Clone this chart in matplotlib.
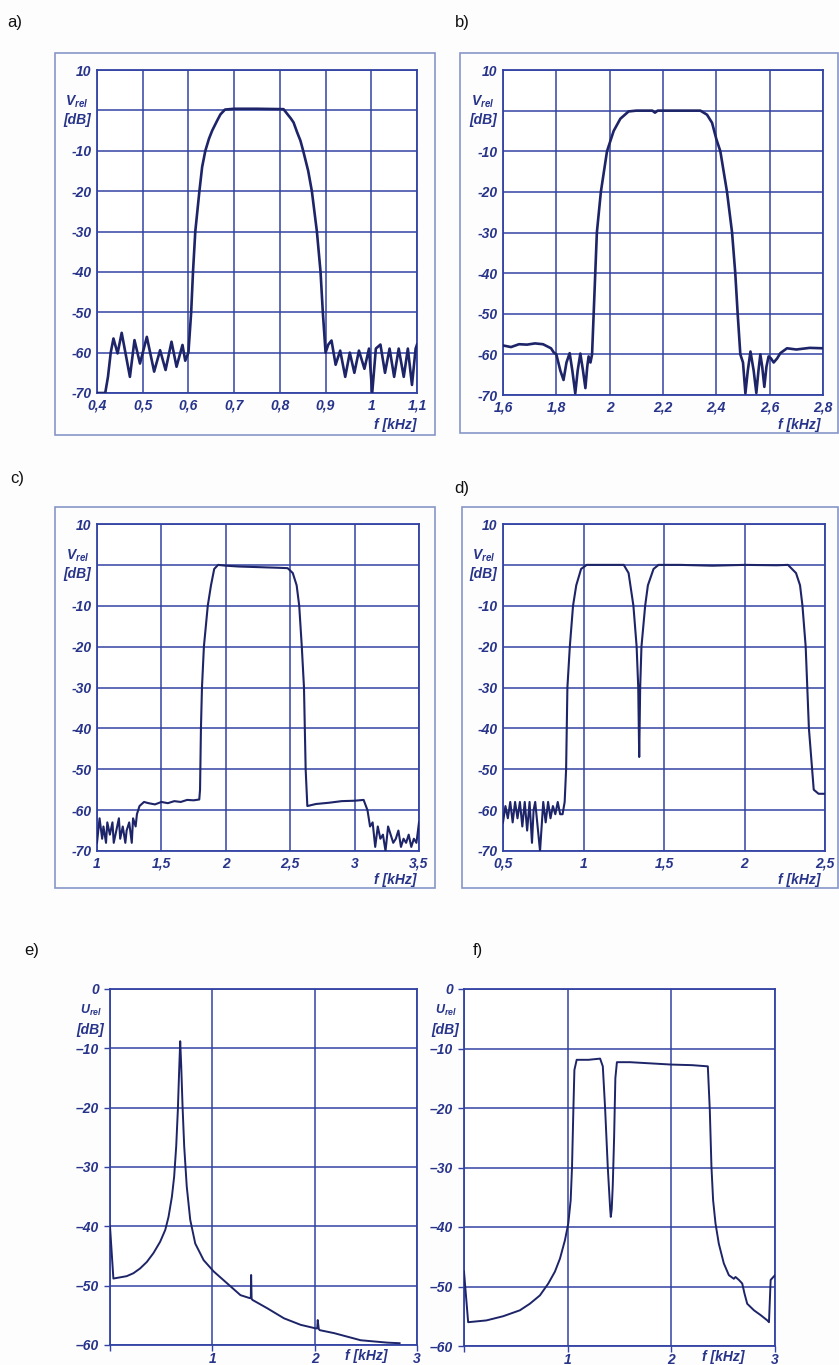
import matplotlib
matplotlib.use('Agg')
from matplotlib import pyplot as plt
from matplotlib.patches import Rectangle

## fonts: italic bold, Arial-like
plt.rcParams['font.family'] = ['Liberation Sans', 'DejaVu Sans']
plt.rcParams['mathtext.fontset'] = 'custom'
plt.rcParams['mathtext.it'] = 'Liberation Sans:italic:bold'
plt.rcParams['mathtext.rm'] = 'Liberation Sans:italic:bold'

## ---- data ----
## a) 0.4 .. 1.1 kHz
a_f = [
    0.400, 0.418, 0.424, 0.430, 0.436, 0.445, 0.454, 0.472, 0.482, 0.494,
    0.509, 0.525, 0.538, 0.550, 0.563, 0.574, 0.587, 0.593, 0.600, 0.603,
    0.606, 0.610, 0.615, 0.624, 0.630, 0.637, 0.645, 0.652, 0.663, 0.670,
    0.680, 0.700, 0.750, 0.808, 0.817, 0.824, 0.830, 0.838, 0.845, 0.851,
    0.862, 0.870, 0.881, 0.889, 0.894, 0.900, 0.906, 0.913, 0.922, 0.932,
    0.943, 0.953, 0.963, 0.973, 0.985, 0.995, 1.002, 1.010, 1.020, 1.030,
    1.040, 1.050, 1.060, 1.071, 1.080, 1.089, 1.097, 1.100]
a_db = [
    -70, -70, -66, -60, -56.5, -60.2, -55.1, -66, -56.9, -62.7,
    -56.1, -64.7, -59.4, -64.3, -57.3, -63.5, -58.1, -62, -60, -55,
    -50, -40, -30, -20, -14, -10, -7, -5, -2.5, -1,
    0.2, 0.4, 0.4, 0.3, -1, -2, -3, -5.5, -7.5, -10,
    -15, -20, -30, -40, -50, -60, -58, -57, -63, -59.5,
    -66, -60, -65, -59.5, -64, -59, -70, -59, -58, -65,
    -59, -66, -59, -66, -59, -68, -59, -58]

## b) 1.6 .. 2.8 kHz
b_f = [
    1.60, 1.63, 1.66, 1.69, 1.72, 1.75, 1.78, 1.79, 1.80, 1.815,
    1.827, 1.838, 1.850, 1.860, 1.871, 1.880, 1.890, 1.900, 1.909, 1.916,
    1.921, 1.928, 1.934, 1.940, 1.946, 1.952, 1.967, 1.990, 2.015, 2.040,
    2.071, 2.100, 2.160, 2.170, 2.180, 2.250, 2.340, 2.365, 2.384, 2.400,
    2.415, 2.440, 2.459, 2.471, 2.480, 2.490, 2.500, 2.509, 2.518, 2.528,
    2.540, 2.550, 2.558, 2.565, 2.572, 2.580, 2.588, 2.596, 2.605, 2.615,
    2.628, 2.640, 2.665, 2.700, 2.750, 2.800]
b_db = [
    -57.8, -58.2, -57.5, -57.6, -57.3, -57.5, -58.5, -59.5, -60, -64,
    -66.3, -62, -59.7, -64, -69.6, -64, -59.8, -64, -68.3, -63,
    -60.5, -62, -60, -50, -40, -30, -20, -10, -5, -2,
    -0.2, 0, 0, -0.5, 0, 0, 0, -1, -3, -7,
    -10, -20, -30, -40, -50, -60, -62, -69.6, -64, -59.3,
    -64, -69.5, -64, -60, -63, -68, -63, -60.5, -61, -62,
    -61, -59.7, -58.5, -58.8, -58.4, -58.5]

## c) 1 .. 3.5 kHz
c_f = [
    1.00, 1.02, 1.04, 1.05, 1.07, 1.08, 1.10, 1.12, 1.13, 1.15,
    1.17, 1.18, 1.20, 1.22, 1.23, 1.25, 1.27, 1.28, 1.30, 1.31,
    1.33, 1.365, 1.40, 1.45, 1.50, 1.55, 1.60, 1.65, 1.70, 1.75,
    1.794, 1.800, 1.807, 1.815, 1.830, 1.860, 1.885, 1.910, 1.940, 2.00,
    2.10, 2.20, 2.30, 2.40, 2.48, 2.52, 2.55, 2.57, 2.59, 2.607,
    2.62, 2.633, 2.70, 2.80, 2.90, 3.00, 3.07, 3.10, 3.12, 3.14,
    3.16, 3.18, 3.20, 3.22, 3.24, 3.26, 3.28, 3.30, 3.32, 3.34,
    3.36, 3.38, 3.40, 3.42, 3.44, 3.46, 3.48, 3.50]
c_db = [
    -68, -62, -67, -64, -68, -63, -66, -63, -68, -65,
    -62, -67, -64, -68, -65, -63, -68, -62, -64, -61,
    -59, -58, -58.3, -58.6, -58, -58.3, -57.8, -58, -57.5, -57.6,
    -57.4, -55, -40, -30, -20, -10, -5, -1, 0, -0.2,
    -0.4, -0.5, -0.6, -0.7, -0.8, -2, -5, -10, -20, -30,
    -50, -59, -58.5, -58.2, -57.8, -57.7, -57.5, -60, -64, -63,
    -69, -64, -67, -66, -70, -64, -66, -68, -67, -65,
    -69, -67, -68, -66, -69, -67, -68, -63]

## d) 0.5 .. 2.5 kHz
d_f = [
    0.50, 0.515, 0.53, 0.545, 0.56, 0.575, 0.59, 0.605, 0.62, 0.635,
    0.65, 0.665, 0.68, 0.69, 0.70, 0.715, 0.73, 0.74, 0.75, 0.765,
    0.78, 0.795, 0.81, 0.825, 0.84, 0.855, 0.87, 0.883, 0.892, 0.900,
    0.915, 0.935, 0.955, 0.985, 1.02, 1.10, 1.20, 1.25, 1.28, 1.31,
    1.33, 1.34, 1.346, 1.352, 1.36, 1.383, 1.40, 1.435, 1.466, 1.60,
    1.80, 2.00, 2.20, 2.27, 2.32, 2.345, 2.36, 2.38, 2.40, 2.43,
    2.46, 2.50]
d_db = [
    -63, -59, -62, -58, -63, -58, -62, -58, -64, -58,
    -65, -58, -68, -60, -58, -64, -70, -64, -58, -63,
    -58, -62, -59, -61, -58, -61, -61, -58, -50, -30,
    -20, -10, -5, -1, 0, 0, 0, 0, -2, -10,
    -20, -30, -47, -30, -20, -10, -5, -1, 0, 0,
    -0.2, 0, -0.1, 0, -2, -5, -10, -20, -40, -55,
    -56, -56]

## e) 0 .. 3 kHz
e_f = [
    0.0, 0.033, 0.163, 0.229, 0.294, 0.36, 0.425, 0.49, 0.54, 0.572,
    0.605, 0.627, 0.647, 0.663, 0.676, 0.686, 0.696, 0.709, 0.725, 0.75,
    0.784, 0.833, 0.915, 1.013, 1.144, 1.275, 1.366, 1.376, 1.379, 1.384,
    1.392, 1.536, 1.70, 1.863, 2.01, 2.025, 2.03, 2.04, 2.05, 2.19,
    2.32, 2.45, 2.58, 2.71, 2.83]
e_db = [
    -40, -48.8, -48.4, -47.9, -47.1, -46, -44.5, -42.6, -40.6, -38.4,
    -35, -31.6, -26.5, -20.4, -13.6, -8.8, -13, -19.8, -26.5, -33.3,
    -38.9, -42.9, -45.7, -47.6, -49.6, -51.6, -52.1, -52.1, -48.2, -52.2,
    -52.4, -53.8, -55.5, -56.6, -57.2, -57.2, -55.8, -57.3, -57.5, -58,
    -58.6, -59.2, -59.4, -59.6, -59.7]

## f) 0 .. 3 kHz
f_f = [
    0.0, 0.04, 0.216, 0.377, 0.539, 0.635, 0.732, 0.813, 0.877, 0.926,
    0.974, 1.006, 1.029, 1.042, 1.055, 1.065, 1.087, 1.20, 1.313, 1.339,
    1.361, 1.387, 1.41, 1.416, 1.425, 1.435, 1.448, 1.46, 1.475, 1.60,
    1.90, 2.00, 2.20, 2.352, 2.371, 2.387, 2.403, 2.426, 2.458, 2.506,
    2.555, 2.603, 2.619, 2.652, 2.684, 2.706, 2.732, 2.797, 2.861, 2.926,
    2.942, 2.958, 2.984, 3.0]
f_db = [
    -47.5, -56, -55.7, -55, -54, -52.9, -51.5, -49.5, -47.5, -45.3,
    -42.2, -39.4, -35.5, -29.9, -20.3, -13.6, -11.9, -11.9, -11.7, -13,
    -20, -30, -37, -38.3, -37, -33, -25, -15, -12.3, -12.3,
    -12.6, -12.7, -12.8, -13, -20.3, -29.9, -35.5, -39.4, -42.8, -46.1,
    -48.1, -48.7, -48.4, -48.9, -49.5, -51.2, -52.9, -54, -54.8, -55.7,
    -56, -48.9, -48.4, -48.1]

## tick values / labels
a_xt = [0.4, 0.5, 0.6, 0.7, 0.8, 0.9, 1.0, 1.1]
a_xl = ['0,4', '0,5', '0,6', '0,7', '0,8', '0,9', '1', '1,1']
b_xt = [1.6, 1.8, 2.0, 2.2, 2.4, 2.6, 2.8]
b_xl = ['1,6', '1,8', '2', '2,2', '2,4', '2,6', '2,8']
c_xt = [1.0, 1.5, 2.0, 2.5, 3.0, 3.5]
c_xl = ['1', '1,5', '2', '2,5', '3', '3,5']
d_xt = [0.5, 1.0, 1.5, 2.0, 2.5]
d_xl = ['0,5', '1', '1,5', '2', '2,5']
ef_xt = [0, 1, 2, 3]
ef_xl = ['', '1', '2', '3']
v_yt = [10, 0, -10, -20, -30, -40, -50, -60, -70]
v_yl = ['10', '', '-10', '-20', '-30', '-40', '-50', '-60', '-70']
u_yt = [0, -10, -20, -30, -40, -50, -60]
u_yl = ['0', '\u201310', '\u201320', '\u201330', '\u201340', '\u201350', '\u201360']

## ---- style ----
W, H = 839, 1365
TXT = '#27348a'
GRID = '#3343a3'
LINE = '#1d2468'
FRAME = '#8796c8'

fig = plt.figure(figsize=(W / 100, H / 100), dpi=100)
fig.patch.set_facecolor('#fdfdfe')


def px_axes(x0, y0, x1, y1):
    ## pixel box (top-left origin) -> figure fraction
    return fig.add_axes([x0 / W, 1 - y1 / H, (x1 - x0) / W, (y1 - y0) / H])


def px_text(x, y, s, **kw):
    fig.text(x / W, 1 - y / H, s, **kw)


def frame(x0, y0, x1, y1):
    fig.patches.append(Rectangle((x0 / W, 1 - y1 / H), (x1 - x0) / W, (y1 - y0) / H,
                                 transform=fig.transFigure, fill=False,
                                 ec=FRAME, lw=1.2))


def panel(box, fx, fy, xt, xl, yt, yl, lw, tick_len=0, xpad=4):
    ax = px_axes(*box)
    ax.set_facecolor('white')
    ax.plot(fx, fy, color=LINE, lw=lw, solid_joinstyle='round', zorder=3)
    ax.set_xlim(xt[0], xt[-1])
    ax.set_ylim(yt[-1], yt[0])
    ax.set_xticks(xt)
    ax.set_xticklabels(xl)
    ax.set_yticks(yt)
    ax.set_yticklabels(yl)
    ax.grid(True, color=GRID, lw=1.1)
    for s in ax.spines.values():
        s.set_color(GRID)
        s.set_linewidth(1.3)
    ax.tick_params(length=tick_len, width=1, color=GRID, pad=4,
                   labelsize=10, labelcolor=TXT)
    ax.tick_params(axis='x', pad=xpad)
    for t in ax.get_xticklabels() + ax.get_yticklabels():
        t.set_fontstyle('italic')
        t.set_fontweight('bold')
    return ax


lab = dict(color=TXT, fontsize=10, fontweight='bold', fontstyle='italic')

## a)
frame(55, 53, 435, 435)
panel((97, 70, 417, 393), a_f, a_db, a_xt, a_xl, v_yt, v_yl, 1.9)
px_text(88, 102, r'$V_{rel}$', ha='right', va='center', color=TXT, fontsize=10)
px_text(91, 120, '[dB]', ha='right', va='center', **lab)
px_text(417, 425, 'f [kHz]', ha='right', va='center', **lab)

## b)
frame(460, 53, 838, 433)
panel((503, 70, 823, 395), b_f, b_db, b_xt, b_xl, v_yt, v_yl, 1.9)
px_text(494, 102, r'$V_{rel}$', ha='right', va='center', color=TXT, fontsize=10)
px_text(497, 120, '[dB]', ha='right', va='center', **lab)
px_text(821, 425, 'f [kHz]', ha='right', va='center', **lab)

## c)
frame(55, 507, 435, 888)
panel((97, 524, 419, 851), c_f, c_db, c_xt, c_xl, v_yt, v_yl, 1.5)
px_text(89, 556, r'$V_{rel}$', ha='right', va='center', color=TXT, fontsize=10)
px_text(91, 574, '[dB]', ha='right', va='center', **lab)
px_text(416, 880, 'f [kHz]', ha='right', va='center', **lab)

## d)
frame(462, 507, 838, 888)
panel((503, 524, 825, 851), d_f, d_db, d_xt, d_xl, v_yt, v_yl, 1.5)
px_text(495, 556, r'$V_{rel}$', ha='right', va='center', color=TXT, fontsize=10)
px_text(497, 574, '[dB]', ha='right', va='center', **lab)
px_text(820, 880, 'f [kHz]', ha='right', va='center', **lab)

## e)
ax_e = panel((110, 989, 417, 1345), e_f, e_db, ef_xt, ef_xl, u_yt, u_yl, 1.4,
             tick_len=4, xpad=1)
ax_e.text(2.5, -60.6, 'f [kHz]', ha='center', va='top', **lab)
px_text(102, 1010, r'$U_{rel}$', ha='right', va='center', color=TXT, fontsize=9)
px_text(104, 1030, '[dB]', ha='right', va='center', **lab)

## f)
ax_f = panel((464, 989, 775, 1346), f_f, f_db, ef_xt, ef_xl, u_yt, u_yl, 1.4,
             tick_len=4, xpad=1)
ax_f.text(2.5, -60.6, 'f [kHz]', ha='center', va='top', **lab)
px_text(457, 1010, r'$U_{rel}$', ha='right', va='center', color=TXT, fontsize=9)
px_text(459, 1030, '[dB]', ha='right', va='center', **lab)

## panel letters
for x, y, s in [(15, 22, 'a)'), (462, 22, 'b)'), (17, 478, 'c)'),
                (462, 488, 'd)'), (32, 950, 'e)'), (478, 950, 'f)')]:
    px_text(x, y, s, ha='center', va='center', fontsize=12, color='#111111')

fig.savefig('out.png', dpi=100, facecolor=fig.get_facecolor())
